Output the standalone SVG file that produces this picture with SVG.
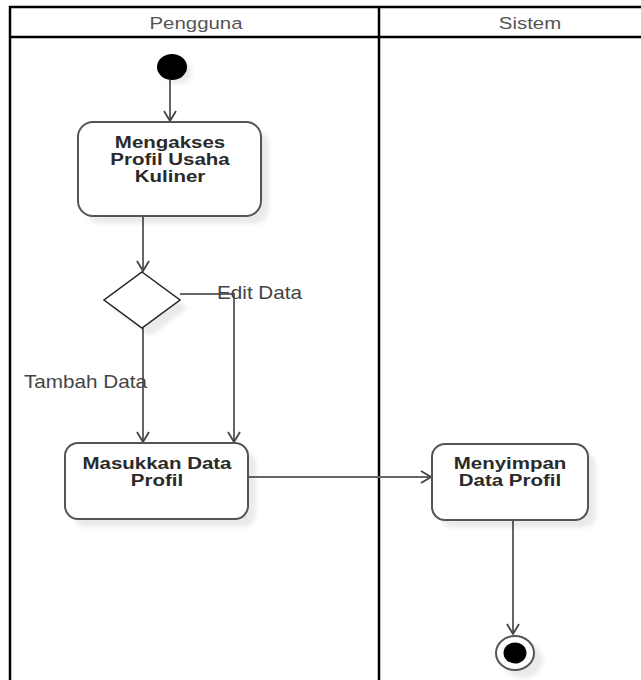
<svg xmlns="http://www.w3.org/2000/svg" width="641" height="680" viewBox="0 0 641 680">
  <defs>
    <style>
      .lane { fill: none; stroke: #000; stroke-width: 2.5; }
      .lane-title { font-family: "Liberation Sans", Arial, sans-serif; font-size: 17px; fill: #555; text-anchor: middle; }
      .act { fill: #fff; stroke: #555; stroke-width: 2; }
      .shadow { fill: #000; opacity: 0.08; filter: url(#soft); }
      .act-label { font-family: "Liberation Sans", Arial, sans-serif; font-size: 16px; font-weight: bold; fill: #2a2a2a; text-anchor: middle; }
      .guard { font-family: "Liberation Sans", Arial, sans-serif; font-size: 18px; fill: #444; }
      .flow { fill: none; stroke: #666; stroke-width: 2; marker-end: url(#open); }
      .decision { fill: #fff; stroke: #222; stroke-width: 1.5; }
    </style>
    <filter id="soft" x="-20%" y="-20%" width="140%" height="140%">
      <feGaussianBlur stdDeviation="2"/>
    </filter>
    <marker id="open" viewBox="0 0 12 14" refX="11" refY="7" markerWidth="12" markerHeight="14" markerUnits="userSpaceOnUse" orient="auto">
      <path d="M1,1 L11,7 L1,13" fill="none" stroke="#444" stroke-width="1.8"/>
    </marker>
  </defs>

  <!-- swimlanes -->
  <g id="lanes">
    <rect x="0" y="0" width="641" height="680" fill="#fff"/>
    <path class="lane" d="M10,680 V7 H645 M10,37 H645 M379,7 V680"/>
    <text class="lane-title" transform="translate(196,29) scale(1.2,1)">Pengguna</text>
    <text class="lane-title" transform="translate(530,29) scale(1.2,1)">Sistem</text>
  </g>

  <!-- connectors -->
  <g id="connectors">
    <path class="flow" d="M170,80 V121"/>
    <path class="flow" d="M143,216 V271"/>
    <path class="flow" d="M143,328 V442"/>
    <path class="flow" d="M180,294 H234 V442"/>
    <path class="flow" d="M248,477 H431"/>
    <path class="flow" d="M513,520 V634"/>
  </g>

  <g id="start">
    <ellipse cx="178" cy="72" rx="14" ry="12" class="shadow"/>
    <ellipse cx="172" cy="67" rx="15" ry="13" fill="#000"/>
  </g>

  <g id="mengakses">
    <rect x="86" y="130" width="183" height="94" rx="15" class="shadow"/>
    <rect x="78" y="122" width="183" height="94" rx="15" class="act"/>
    <text class="act-label" transform="translate(170,148) scale(1.28,1)">Mengakses</text>
    <text class="act-label" transform="translate(170,165) scale(1.28,1)">Profil Usaha</text>
    <text class="act-label" transform="translate(170,182) scale(1.28,1)">Kuliner</text>
  </g>

  <g id="decision">
    <polygon points="150,280 188,308 150,336 112,308" class="shadow"/>
    <polygon points="142,272 180,300 142,328 104,300" class="decision"/>
  </g>

  <g id="guards">
    <text class="guard" transform="translate(217,299) scale(1.15,1)">Edit Data</text>
    <text class="guard" transform="translate(24,388) scale(1.15,1)">Tambah Data</text>
  </g>

  <g id="masukkan">
    <rect x="73" y="451" width="183" height="76" rx="13" class="shadow"/>
    <rect x="65" y="443" width="183" height="76" rx="13" class="act"/>
    <text class="act-label" transform="translate(157,469) scale(1.28,1)">Masukkan Data</text>
    <text class="act-label" transform="translate(157,486) scale(1.28,1)">Profil</text>
  </g>

  <g id="menyimpan">
    <rect x="440" y="452" width="156" height="76" rx="13" class="shadow"/>
    <rect x="432" y="444" width="156" height="76" rx="13" class="act"/>
    <text class="act-label" transform="translate(510,469) scale(1.28,1)">Menyimpan</text>
    <text class="act-label" transform="translate(510,486) scale(1.28,1)">Data Profil</text>
  </g>

  <g id="end">
    <ellipse cx="523" cy="660" rx="20" ry="18" class="shadow"/>
    <ellipse cx="515" cy="653" rx="19" ry="17" fill="#fff" stroke="#555" stroke-width="2"/>
    <ellipse cx="515" cy="653" rx="11.5" ry="10.5" fill="#000"/>
  </g>
</svg>
